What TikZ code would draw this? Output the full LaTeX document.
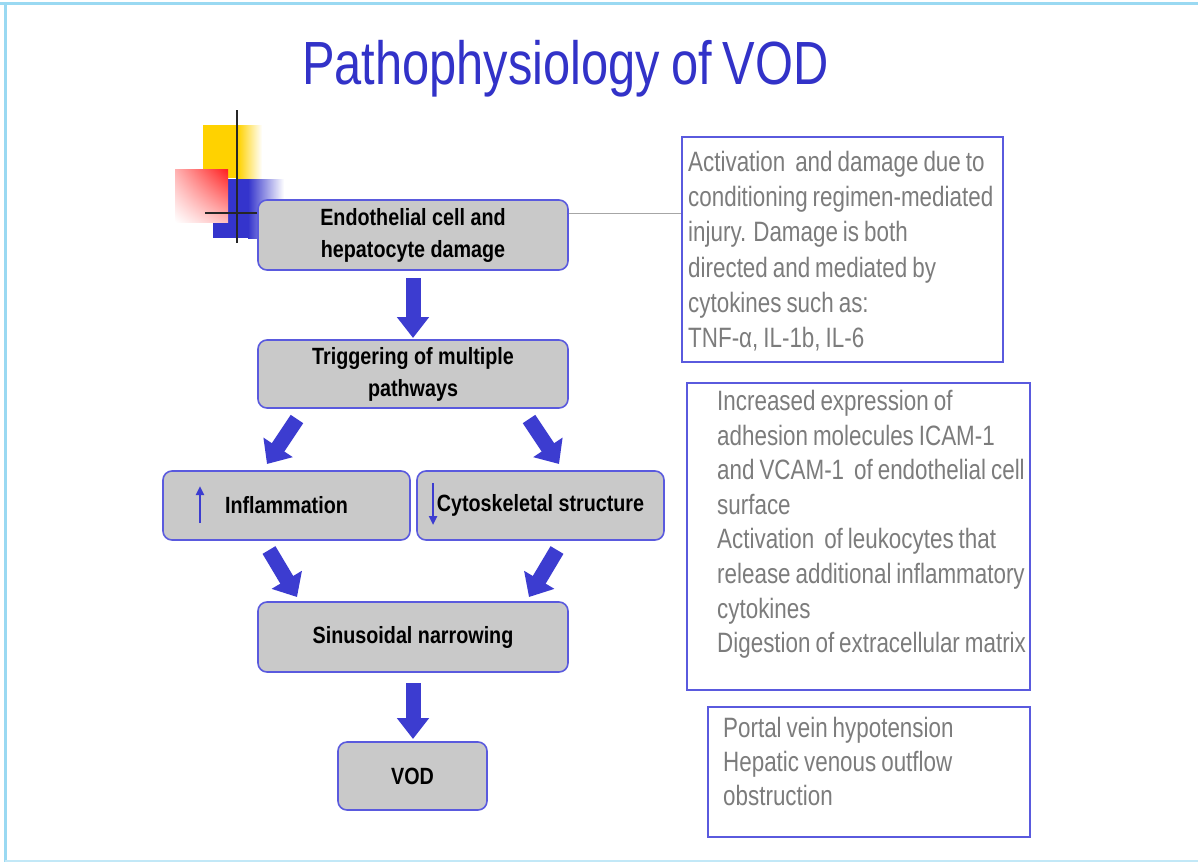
\documentclass[tikz,border=0pt]{standalone}
\usepackage{fontspec}
\setmainfont{Liberation Sans}
\newfontfamily\cond[FakeStretch=0.84]{Liberation Sans}
\newfontfamily\condtitle[FakeStretch=0.80]{Liberation Sans}
\newfontfamily\condnote[FakeStretch=0.80,WordSpace=0.8]{Liberation Sans}
\usetikzlibrary{arrows.meta,shadings}
\definecolor{frameblue}{HTML}{9AD9F2}
\definecolor{titleblue}{HTML}{3232C8}
\definecolor{boxfill}{HTML}{C9C9C9}
\definecolor{boxborder}{HTML}{5A5ADE}
\definecolor{arrowblue}{HTML}{3C3CD0}
\definecolor{notegray}{HTML}{7C7C7C}
\definecolor{decoyellow}{HTML}{FFD200}
\definecolor{decored}{HTML}{FF1E1E}
\definecolor{decoblue}{HTML}{3434CC}
\begin{document}
\begin{tikzpicture}[x=1pt,y=-1pt,
  flowbox/.style={draw=boxborder, line width=1.6pt, fill=boxfill, rounded corners=9pt,
    align=center, inner sep=0pt, text=black,
    font=\cond\bfseries\fontsize{23.5}{32}\selectfont},
  notebox/.style={draw=boxborder, line width=1.6pt, inner sep=0pt},
  notetext/.style={anchor=north west, inner sep=0pt, align=left, text=notegray,
    font=\condnote\fontsize{28}{35.2}\selectfont},
  bigarrow/.style={draw=arrowblue, line width=15pt, -{Triangle[length=21pt,width=31pt]}},
  diagarrow/.style={draw=arrowblue, line width=15pt, -{Triangle[length=20pt,width=34pt]}},
  smallarrow/.style={draw=arrowblue, line width=2.6pt, -{Triangle[length=9pt,width=8pt]}},
  decoline/.style={draw=black!85, line width=2.6pt}
]
\useasboundingbox (0,0) rectangle (1198,862);
\fill[white] (0,0) rectangle (1198,862);
% frame
\draw[frameblue, line width=3pt] (0,3) -- (1198,3);
\draw[frameblue, line width=3pt] (5,3) -- (5,862);
\draw[frameblue!60, line width=1.5pt] (5,861) -- (1198,861);

% title
\node[anchor=base west, inner sep=0pt, text=titleblue, font=\condtitle\fontsize{61}{72}\selectfont]
  (title) at (302,84) {Pathophysiology of VOD};

% decoration squares
\fill[decoyellow] (203,125) rectangle (238,178);
\shade[left color=decoyellow, right color=white] (238,125) rectangle (262,178);
\fill[decoblue] (213,179) rectangle (248,238);
\shade[left color=decoblue, right color=white] (248,179) rectangle (284,238);
\shade[upper right=decored, upper left=decored!35, lower right=decored!30, lower left=white]
  (175,169) rectangle (228,222);
\draw[decoline] (237,110) -- (237,243);
\draw[decoline, line width=2pt] (205,213) -- (262,213);

% flow boxes
\node[flowbox, minimum width=310pt, minimum height=70pt] (endo) at (413,235)
  {Endothelial cell and\\hepatocyte damage};
\node[flowbox, minimum width=310pt, minimum height=68pt] (trig) at (413,374)
  {Triggering of multiple\\pathways};
\node[flowbox, minimum width=247pt, minimum height=69pt] (infl) at (286.5,505.5)
  {Inflammation};
\node[flowbox, minimum width=247pt, minimum height=69pt] (cyto) at (540.5,505.5)
  {Cytoskeletal structure};
\node[flowbox, minimum width=310pt, minimum height=70pt] (sinu) at (413,637)
  {Sinusoidal narrowing};
\node[flowbox, minimum width=149pt, minimum height=68pt] (vod) at (412.5,776)
  {VOD};

% small up/down arrows inside boxes
\coordinate (upS) at (200,523);
\coordinate (upT) at (200,486);
\draw[smallarrow] (upS) -- (upT);
\coordinate (dnS) at (433,483);
\coordinate (dnT) at (433,525);
\draw[smallarrow] (dnS) -- (dnT);

% note boxes
\node[notebox, minimum width=321pt, minimum height=225pt] (note1) at (842.5,249.5) {};
\node[notebox, minimum width=343pt, minimum height=307pt] (note2) at (858.5,536.5) {};
\node[notebox, minimum width=322pt, minimum height=130pt] (note3) at (869,772) {};

\node[notetext] (t1) at (688,151)
  {Activation\ \ and damage due to\\conditioning regimen-mediated\\injury. Damage is both\\directed and mediated by\\cytokines such as:\\TNF-α, IL-1b, IL-6};
\node[notetext, font=\condnote\fontsize{28}{34.6}\selectfont] (t2) at (717,390)
  {Increased expression of\\adhesion molecules ICAM-1\\and VCAM-1\ \ of endothelial cell\\surface\\Activation\ \ of leukocytes that\\release additional inflammatory\\cytokines\\Digestion of extracellular matrix};
\node[notetext, font=\condnote\fontsize{28}{34}\selectfont] (t3) at (723,717)
  {Portal vein hypotension\\Hepatic venous outflow\\obstruction};

% connector from first box to first note
\draw[black!35, line width=1pt] ([yshift=22pt]endo.east) -- ([yshift=22pt]endo.east -| note1.west);

% block arrows
\coordinate (a1s) at (413,278);
\coordinate (a1t) at (413,338);
\draw[bigarrow] (a1s) -- (a1t);
\coordinate (a2s) at (297,419);
\coordinate (a2t) at (267,464);
\draw[diagarrow] (a2s) -- (a2t);
\coordinate (a3s) at (529,419);
\coordinate (a3t) at (559,464);
\draw[diagarrow] (a3s) -- (a3t);
\coordinate (a4s) at (269,550);
\coordinate (a4t) at (297,597);
\draw[diagarrow] (a4s) -- (a4t);
\coordinate (a5s) at (557,550);
\coordinate (a5t) at (529,597);
\draw[diagarrow] (a5s) -- (a5t);
\coordinate (a6s) at (413,683);
\coordinate (a6t) at (413,739);
\draw[bigarrow] (a6s) -- (a6t);
\end{tikzpicture}
\end{document}
